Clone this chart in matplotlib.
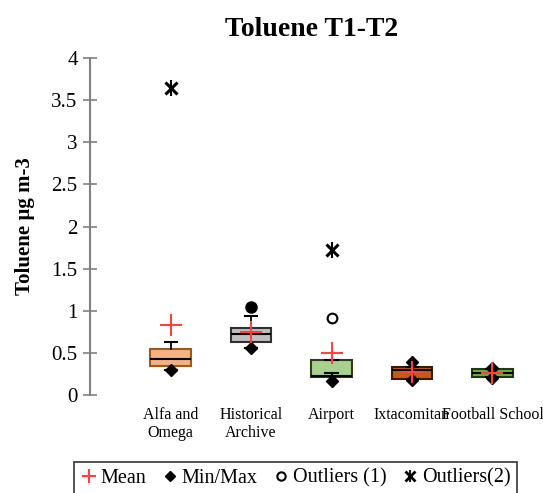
import numpy as np
import matplotlib.pyplot as plt

plt.rcParams['font.family'] = ['Liberation Serif', 'DejaVu Serif']

# data
sites = ['Alfa and\nOmega', 'Historical\nArchive', 'Airport', 'Ixtacomitan', 'Football School']
q1 = [0.348, 0.633, 0.217, 0.186, 0.217]
med = [0.43, 0.72, 0.222, 0.297, 0.265]
q3 = [0.546, 0.80, 0.42, 0.332, 0.305]
whislo = [0.297, 0.554, 0.265, 0.186, 0.217]
whishi = [0.625, 0.94, 0.42, 0.332, 0.305]
means = [0.83, 0.745, 0.495, 0.277, 0.265]
mins = [0.297, 0.554, 0.17, 0.178, 0.198]
maxs = [3.65, 1.04, 1.72, 0.39, 0.317]
outl1 = [None, None, 0.91, None, None]
outl2 = [3.65, None, 1.72, None, None]
colors = ['#F4B183', '#BFBFBF', '#A9D18E', '#C55A11', '#70AD47']
edges = ['#9C5B1C', '#303030', '#2F3A1F', '#3A1A05', '#1E3A10']

fig = plt.figure(figsize=(5.43, 4.93), dpi=100)
ax = fig.add_axes([0.166, 0.199, 0.815, 0.683])

pos = np.arange(1, len(sites) + 1)
stats = []
for i in range(len(sites)):
    stats.append({'med': med[i], 'q1': q1[i], 'q3': q3[i],
                  'whislo': whislo[i], 'whishi': whishi[i], 'fliers': []})
bp = ax.bxp(stats, positions=pos, widths=0.5, patch_artist=True, showfliers=False,
            boxprops=dict(linewidth=1.5),
            medianprops=dict(color='black', linewidth=1.5),
            whiskerprops=dict(color='black', linewidth=1.3),
            capprops=dict(color='black', linewidth=1.5), capwidths=0.15)
for patch, c, e in zip(bp['boxes'], colors, edges):
    patch.set_facecolor(c)
    patch.set_edgecolor(e)

# min / max markers (max skipped when it is an outlier)
for i, p in enumerate(pos):
    ax.plot(p, mins[i], marker='D', color='black', markersize=6, linestyle='none', zorder=4)
    if outl2[i] is None:
        if maxs[i] > whishi[i] + 0.08:
            ax.plot(p, maxs[i], marker='o', color='black', markersize=8, linestyle='none', zorder=4)
        else:
            ax.plot(p, maxs[i], marker='D', color='black', markersize=6, linestyle='none', zorder=4)

ax.plot(pos, means, linestyle='none', marker='+', color='#FF4040', markersize=16,
        markeredgewidth=1.5, zorder=5)
o1x = [p for p, v in zip(pos, outl1) if v is not None]
o1y = [v for v in outl1 if v is not None]
ax.plot(o1x, o1y, linestyle='none', marker='o', markerfacecolor='white',
        markeredgecolor='black', markersize=7, markeredgewidth=1.5, zorder=4)
o2x = [p for p, v in zip(pos, outl2) if v is not None]
o2y = [v for v in outl2 if v is not None]
ax.plot(o2x, o2y, linestyle='none', marker='x', color='black', markersize=9,
        markeredgewidth=2.2, zorder=4)
ax.plot(o2x, o2y, linestyle='none', marker='|', color='black', markersize=11,
        markeredgewidth=1.5, zorder=4)

ax.set_xlim(0, 5.5)
ax.set_ylim(0, 4)
ax.set_yticks(np.arange(0, 4.01, 0.5))
ax.set_yticklabels(['0', '0.5', '1', '1.5', '2', '2.5', '3', '3.5', '4'], fontsize=15)
ax.set_xticks(pos)
ax.set_xticklabels(sites, fontsize=11.5, linespacing=1.1)
ax.tick_params(axis='x', length=0, pad=9)
ax.tick_params(axis='y', direction='inout', length=10, color='#808080', width=1.2, pad=4)
for s in ['top', 'right', 'bottom']:
    ax.spines[s].set_visible(False)
ax.spines['left'].set_color('#808080')
ax.spines['left'].set_linewidth(1.5)

ax.set_title('Toluene T1-T2', fontsize=20, fontweight='bold', pad=16)
ax.set_ylabel('Toluene µg m-3', fontsize=15, fontweight='bold', labelpad=12)

h1 = plt.Line2D([], [], linestyle='none', marker='+', color='#FF4040', markersize=10, markeredgewidth=1.5)
h2 = plt.Line2D([], [], linestyle='none', marker='D', color='black', markersize=5)
h3 = plt.Line2D([], [], linestyle='none', marker='o', markerfacecolor='white',
                markeredgecolor='black', markersize=6, markeredgewidth=1.5)
h4a = plt.Line2D([], [], linestyle='none', marker='x', color='black', markersize=7,
                 markeredgewidth=2)
h4b = plt.Line2D([], [], linestyle='none', marker='|', color='black', markersize=9,
                 markeredgewidth=1.3)
leg = fig.legend([h1, h2, h3, (h4a, h4b)], ['Mean', 'Min/Max', 'Outliers (1)', 'Outliers(2)'],
                 loc='center', bbox_to_anchor=(0.545, 0.03), ncol=4, fontsize=14.5,
                 frameon=True, fancybox=False, edgecolor='black', handlelength=0.7,
                 handletextpad=0.25, columnspacing=0.8, borderpad=0.35)
leg.get_frame().set_linewidth(1.2)

fig.savefig('out.png', dpi=100)
